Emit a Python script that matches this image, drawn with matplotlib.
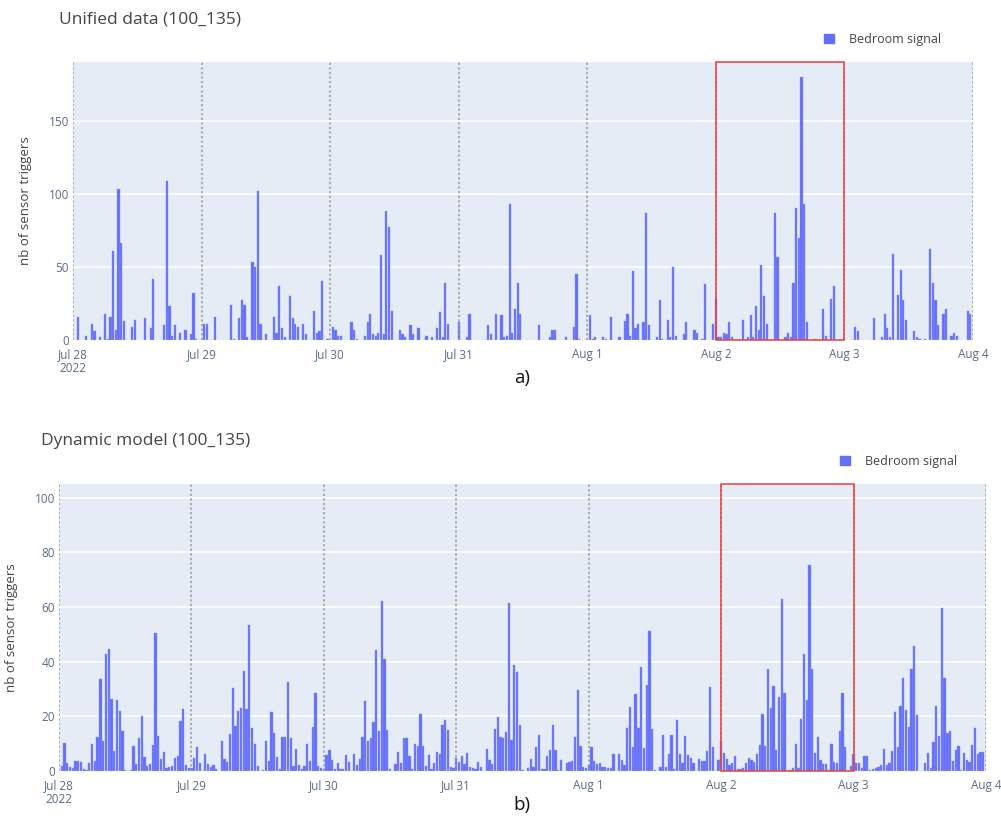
import numpy as np
import pandas as pd
import matplotlib
matplotlib.use('Agg')
import matplotlib.pyplot as plt
import matplotlib.dates as mdates
from matplotlib.patches import Rectangle, Patch

plt.rcParams['font.family'] = ['Open Sans', 'DejaVu Sans']

# 30-minute bins, Jul 28 00:00 -> Aug 3 23:30 (48 values per row = one day)
unified = [
    0, 0, 16, 0, 0, 3, 0, 11, 6, 0, 2, 0, 18, 1, 16, 61, 7, 103, 66, 13, 0, 0, 9, 14, 0, 0, 0, 15, 0, 8, 42, 0, 0, 0, 10, 109, 23, 3, 10, 0, 5, 0, 7, 0, 4, 32, 1, 0,
    0, 11, 11, 0, 0, 16, 0, 0, 0, 0, 0, 24, 1, 0, 15, 27, 24, 2, 0, 53, 50, 102, 11, 0, 4, 0, 0, 16, 5, 37, 8, 2, 0, 30, 15, 11, 9, 0, 11, 4, 0, 0, 20, 5, 6, 40, 0, 1,
    0, 9, 7, 3, 3, 0, 0, 0, 12, 7, 1, 0, 0, 3, 12, 18, 4, 3, 5, 58, 4, 88, 77, 20, 0, 0, 7, 4, 2, 0, 10, 4, 0, 8, 0, 0, 3, 0, 2, 0, 8, 19, 2, 39, 11, 0, 0, 0,
    12, 0, 0, 2, 18, 0, 0, 0, 0, 0, 0, 10, 4, 0, 18, 0, 17, 2, 3, 93, 5, 21, 39, 18, 0, 0, 0, 0, 0, 0, 10, 0, 0, 0, 2, 7, 7, 0, 0, 0, 2, 0, 0, 9, 45, 1, 0, 0,
    0, 17, 1, 2, 0, 0, 2, 1, 0, 16, 0, 0, 2, 0, 13, 18, 3, 47, 8, 11, 0, 12, 87, 10, 0, 0, 2, 27, 1, 0, 14, 2, 50, 3, 0, 0, 4, 12, 0, 0, 7, 5, 0, 1, 38, 0, 0, 11,
    28, 2, 2, 5, 4, 12, 2, 0, 0, 0, 14, 0, 2, 17, 2, 23, 7, 51, 30, 11, 0, 0, 87, 57, 0, 0, 2, 5, 2, 39, 90, 70, 180, 93, 12, 0, 0, 1, 0, 0, 21, 3, 0, 28, 37, 0, 0, 0,
    0, 0, 0, 0, 9, 6, 0, 0, 0, 0, 0, 15, 0, 0, 2, 18, 8, 2, 59, 0, 31, 48, 27, 14, 0, 0, 6, 2, 1, 0, 1, 0, 62, 39, 27, 10, 0, 18, 21, 0, 3, 5, 3, 0, 0, 0, 20, 18,
]

dynamic = [
    0, 1.8, 10.2, 3, 1.6, 1.2, 3.8, 3.8, 3.4, 0.7, 0.4, 3, 10, 3.8, 12.6, 33.5, 11, 42.7, 44.7, 26.4, 7.2, 26, 22, 14.8, 0.4, 0, 0.4, 9, 2.5, 12, 20, 5, 1.8, 2.5, 9.6, 50.5, 12.9, 4.3, 6.9, 1.2, 1.6, 1.8, 4.9, 5.6, 18.4, 22.7, 2.1, 1.2,
    1, 4.7, 8.6, 2.8, 0, 6.1, 2.5, 1.6, 2.2, 0.7, 0.1, 10.8, 4.4, 3.4, 13.5, 30.4, 16.6, 22, 23.2, 36.6, 22.6, 53.3, 15.7, 10, 2, 0, 0.4, 10.8, 3.6, 21.5, 14, 5, 0.7, 12.3, 12.6, 32.6, 12, 2, 8.2, 2.2, 0.7, 1.8, 10, 3.7, 16.2, 28.6, 1.8, 1.2,
    0.7, 5.9, 7.6, 3.9, 0.6, 2.8, 0.7, 0.6, 6, 3.2, 0.1, 6.3, 2.3, 4.3, 12.3, 25.5, 11, 12.1, 17.9, 44.3, 14.7, 62.2, 40.9, 15.1, 0.9, 0, 2.5, 7, 3.1, 11.9, 12.1, 5.6, 0.7, 9.8, 9.1, 20.7, 9.3, 1.8, 6, 0.7, 3.1, 7, 6.3, 16.9, 18.8, 15.1, 1.6, 1,
    4.8, 3.4, 5.4, 2.7, 6.6, 1.3, 1, 0.7, 3.2, 1.5, 0, 8, 3.9, 2.5, 15.3, 19.6, 12.6, 11.9, 14.1, 61.3, 11.4, 38.9, 36.3, 16.9, 0.4, 0, 1.2, 4.3, 1.3, 8.6, 13.3, 0.6, 0.6, 5.6, 7.6, 17, 7.7, 0.4, 4.2, 0, 2.8, 3.4, 3.6, 12.6, 29.7, 9, 1.5, 1.1,
    2.2, 8.7, 3.7, 2.7, 3.1, 1.6, 1.6, 1.1, 1.1, 6.1, 0, 6.1, 3.9, 2.1, 15.7, 23.4, 8.7, 28.3, 15.6, 38, 8.3, 31.4, 51.4, 15.3, 0.2, 0, 1.3, 13, 1.3, 6.1, 13.3, 0.7, 18.6, 6.1, 2.8, 12.9, 5.9, 4.9, 2.8, 0, 4.3, 3.7, 3.7, 7.4, 30.7, 8.7, 0, 4,
    11, 6.5, 4.3, 2.2, 2.8, 5.6, 0.7, 0.7, 1.2, 3.1, 4.9, 3.9, 3.4, 6.1, 9.6, 20.9, 9, 37.2, 23.1, 31.2, 7.7, 27.1, 63.1, 28.5, 0, 0.2, 1.2, 9.8, 1.2, 19.1, 42.7, 25.9, 75.2, 37.4, 6.7, 12.3, 4.2, 2.5, 2.5, 0.2, 10, 3.2, 3.1, 14.8, 28.5, 8.6, 0, 2,
    6.1, 3.1, 3.1, 1.2, 5.5, 5.5, 0.2, 0.7, 1.2, 1.6, 2.3, 8, 2.3, 3.1, 7.4, 21.6, 8.7, 23.7, 34, 22.3, 16.1, 37.2, 45.6, 20.5, 0.1, 0, 2.8, 6.7, 1, 10.7, 23.9, 12.9, 59.6, 34.2, 13.9, 14.8, 3.8, 7.6, 9.2, 0.2, 6.5, 4.2, 3.2, 9.4, 15.7, 6.1, 7, 7.1,
]

days = pd.date_range('2022-07-28', '2022-08-04', freq='D')
day_labels = ['Jul 28\n2022', 'Jul 29', 'Jul 30', 'Jul 31', 'Aug 1', 'Aug 2', 'Aug 3', 'Aug 4']
times = pd.date_range('2022-07-28', periods=len(unified), freq='30min')
highlight = (pd.Timestamp('2022-08-02'), pd.Timestamp('2022-08-03'))

bar_color = '#636EFA'
bg = '#E5ECF6'
tick_col = '#5a6b85'

fig = plt.figure(figsize=(10.01, 8.21), dpi=100)


def panel(rect, values, ymax, yticks, title, title_x, legend_x, ylab_x, letter_y, letter):
    ax = fig.add_axes(rect)
    ax.set_facecolor(bg)
    x = mdates.date2num(times)
    ax.bar(x, values, width=0.82 / 48, color=bar_color, edgecolor='#8d95fb',
           linewidth=0.3, zorder=3)
    ax.set_xlim(mdates.date2num(days[0]), mdates.date2num(days[-1]))
    ax.set_ylim(0, ymax)
    ax.set_yticks(yticks)
    ax.set_yticklabels([str(t) for t in yticks])
    ax.yaxis.grid(True, color='white', linewidth=1.1, zorder=0)
    ax.set_axisbelow(True)
    ax.set_xticks(mdates.date2num(days))
    ax.set_xticklabels(day_labels, ha='center', va='top', linespacing=1.1)
    for d in days:
        ax.axvline(mdates.date2num(d), color='#9a9a9a', linestyle=(0, (1.5, 1.5)),
                   linewidth=1.1, zorder=4)
    for s in ax.spines.values():
        s.set_visible(False)
    ax.tick_params(axis='both', length=0, labelsize=8.5, colors=tick_col)
    ax.tick_params(axis='x', pad=6)
    ax.tick_params(axis='y', pad=3)
    ax.set_ylabel('nb of sensor triggers', fontsize=9.5, color='#444444')
    ax.yaxis.set_label_coords(ylab_x, 0.5)
    r = Rectangle((mdates.date2num(highlight[0]), 0),
                  mdates.date2num(highlight[1]) - mdates.date2num(highlight[0]), 1,
                  transform=ax.get_xaxis_transform(), fill=False,
                  edgecolor='#f03c3c', linewidth=1.1, zorder=5, clip_on=False)
    ax.add_patch(r)
    top = rect[1] + rect[3]
    fig.text(title_x, top + 0.052, title, fontsize=12.5, color='#444444', va='center')
    fig.legend(handles=[Patch(facecolor=bar_color, edgecolor=bar_color)],
               labels=['Bedroom signal'], loc='center left',
               bbox_to_anchor=(legend_x, top + 0.028), frameon=False,
               handlelength=0.75, handleheight=0.75, handletextpad=1.2,
               prop={'size': 9}, labelcolor='#444444')
    fig.text(0.5215, letter_y, letter, fontsize=13.5, color='#111111',
             ha='center', va='center')
    return ax


panel([73 / 1001, 1 - 340 / 821, 900 / 1001, 278 / 821], unified, 190,
      [0, 50, 100, 150], 'Unified data (100_135)', 59 / 1001, 813 / 1001,
      -0.046, 1 - 378 / 821, 'a)')
panel([59 / 1001, 1 - 771 / 821, 927 / 1001, 287 / 821], dynamic, 105,
      [0, 20, 40, 60, 80, 100], 'Dynamic model (100_135)', 41 / 1001, 829 / 1001,
      -0.044, 1 - 805 / 821, 'b)')

fig.savefig('out.png', dpi=100)
